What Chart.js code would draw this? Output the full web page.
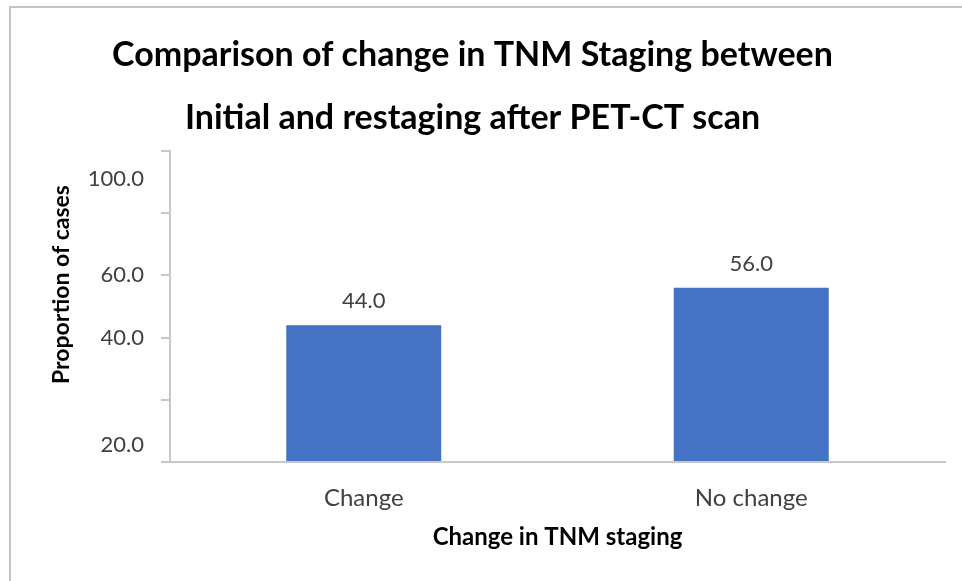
<!DOCTYPE html>
<html>
<head>
<meta charset="utf-8">
<script src="https://cdn.jsdelivr.net/npm/chart.js@4"></script>
<style>
  html, body { margin: 0; padding: 0; background: #fff; }
  #wrap { width: 962px; height: 581px; }
</style>
</head>
<body>
<div id="wrap"><canvas id="myChart" width="962" height="581"></canvas></div>
<script>
// 데이터
const categories = ['Change', 'No change'];
const proportions = [44.0, 56.0];
// y축 라벨 (그림에 찍힌 위치 그대로)
const yLabelText = ['100.0', '60.0', '40.0', '20.0'];
const yLabelAt = [91, 60, 40, 5.5];

const FONT = 'Lato, "Open Sans", sans-serif';
const axisGray = '#c8c8c8';
const labelGray = '#404040';

// 바깥 테두리 (위, 왼쪽만 보임)
const framePlugin = {
    id: 'frame',
    beforeDraw(chart) {
        const c = chart.ctx;
        c.save();
        c.strokeStyle = '#c4c4c4';
        c.lineWidth = 2;
        c.beginPath();
        c.moveTo(10, chart.height);
        c.lineTo(10, 7);
        c.lineTo(chart.width, 7);
        c.stroke();
        c.restore();
    }
};

// y축 제목, y축 라벨, 막대 위 값 표시
const labelPlugin = {
    id: 'labels',
    afterDraw(chart) {
        const c = chart.ctx;
        const y = chart.scales.y;
        c.save();
        // y축 제목 (가운데보다 조금 위)
        c.save();
        c.translate(62, (y.top + y.bottom) / 2 - 22);
        c.rotate(-Math.PI / 2);
        c.font = 'bold 23px ' + FONT;
        c.fillStyle = '#000';
        c.textAlign = 'center';
        c.textBaseline = 'middle';
        c.fillText('Proportion of cases', 0, 0);
        c.restore();

        c.font = '22px ' + FONT;
        c.fillStyle = labelGray;
        c.textAlign = 'right';
        c.textBaseline = 'middle';
        yLabelText.forEach((t, i) => {
            c.fillText(t, y.right - 26, y.getPixelForValue(yLabelAt[i]));
        });
        c.textAlign = 'center';
        const meta = chart.getDatasetMeta(0);
        meta.data.forEach((bar, i) => {
            c.fillText(proportions[i].toFixed(1), bar.x, bar.y - 24);
        });
        c.restore();
    }
};

const ctx = document.querySelector('#myChart').getContext('2d');
const chart = new Chart(ctx, {
    type: 'bar',
    data: {
        labels: categories,
        datasets: [{
            data: proportions,
            backgroundColor: '#4472c4',
            borderWidth: 0,
            categoryPercentage: 1,
            barPercentage: 0.4
        }]
    },
    options: {
        responsive: false,
        animation: false,
        layout: { padding: { left: 0, right: 17, top: 0, bottom: 0 } },
        scales: {
            x: {
                grid: { display: false },
                border: { color: axisGray, width: 2 },
                ticks: {
                    color: labelGray,
                    font: { family: FONT, size: 24 },
                    padding: 14
                },
                title: {
                    display: true,
                    text: 'Change in TNM staging',
                    color: '#000',
                    font: { family: FONT, size: 24, weight: 'bold' },
                    padding: { top: 0, bottom: 29 }
                },
                afterFit(scale) { scale.height = 119; }
            },
            y: {
                min: 0,
                max: 100,
                grid: {
                    drawOnChartArea: false,
                    color: axisGray,
                    lineWidth: 2,
                    tickLength: 9
                },
                border: { color: axisGray, width: 2 },
                ticks: { stepSize: 20, display: false },
                afterFit(scale) { scale.width = 170; }
            }
        },
        plugins: {
            legend: { display: false },
            tooltip: { enabled: false },
            title: {
                display: true,
                text: ['Comparison of change in TNM Staging between',
                       'Initial and restaging after PET-CT scan'],
                color: '#000',
                font: { family: FONT, size: 34, weight: 'bold', lineHeight: 63 / 34 },
                padding: { top: 23.5, bottom: 1.5 }
            }
        }
    },
    plugins: [framePlugin, labelPlugin]
});
</script>
</body>
</html>
